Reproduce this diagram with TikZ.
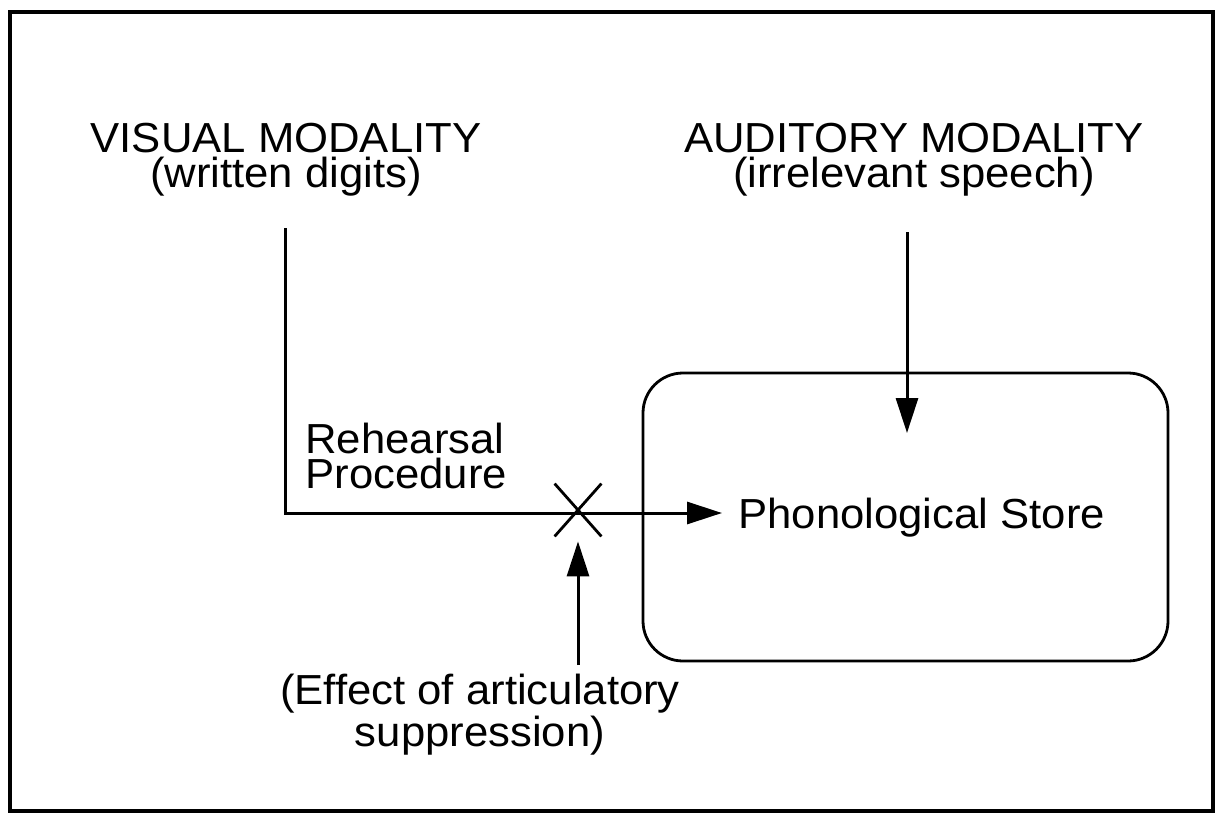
\documentclass[tikz,border=0pt]{standalone}
\usepackage{fontspec}
\setmainfont{Liberation Sans}[FakeStretch=1.04]
\usetikzlibrary{arrows.meta,shapes.misc}
\begin{document}
\begin{tikzpicture}[x=0.5pt,y=-0.5pt,
  lbl/.style={font=\fontsize{21pt}{17.5pt}\selectfont, inner sep=0pt, align=center},
  conn/.style={line width=1.5pt},
  arr/.style={conn,-{Triangle[length=17.5pt,width=11pt]}},
]
\useasboundingbox (0,0) rectangle (1220,819);
\draw[line width=1.6pt] (10,12) rectangle (1213,811);
\node[draw, line width=1.4pt, rounded corners=20pt, minimum width=262.5pt, minimum height=144pt, inner sep=0pt] (store) at (905.5,517) {};
\node[lbl, anchor=base] (vis) at (286,187) {VISUAL MODALITY\\(written digits)};
\node[lbl, anchor=base] (aud) at (914,187) {AUDITORY MODALITY\\(irrelevant speech)};
\node[lbl, anchor=base west, align=left] (reh) at (305,488) {Rehearsal\\Procedure};
\node[lbl, anchor=base west, inner xsep=8pt] (phon) at (722,528) {Phonological Store};
\node[lbl, anchor=base] (eff) at (480,746) {(Effect of articulatory\\suppression)};
\node[draw, cross out, line width=1.4pt, minimum width=22pt, minimum height=25pt, inner sep=0pt] (cross) at (578,510) {};
\coordinate (v0) at (285,228);
\coordinate (vturn) at (285,513);
\draw[arr] (v0) -- (vturn) -- (vturn -| phon.west);
\coordinate (a0) at (907,232);
\coordinate (a1) at (907,433);
\draw[arr] (a0) -- (a1);
\coordinate (s0) at (578,665);
\draw[arr, shorten >=2.5pt] (s0) -- (cross.south);
\end{tikzpicture}
\end{document}
